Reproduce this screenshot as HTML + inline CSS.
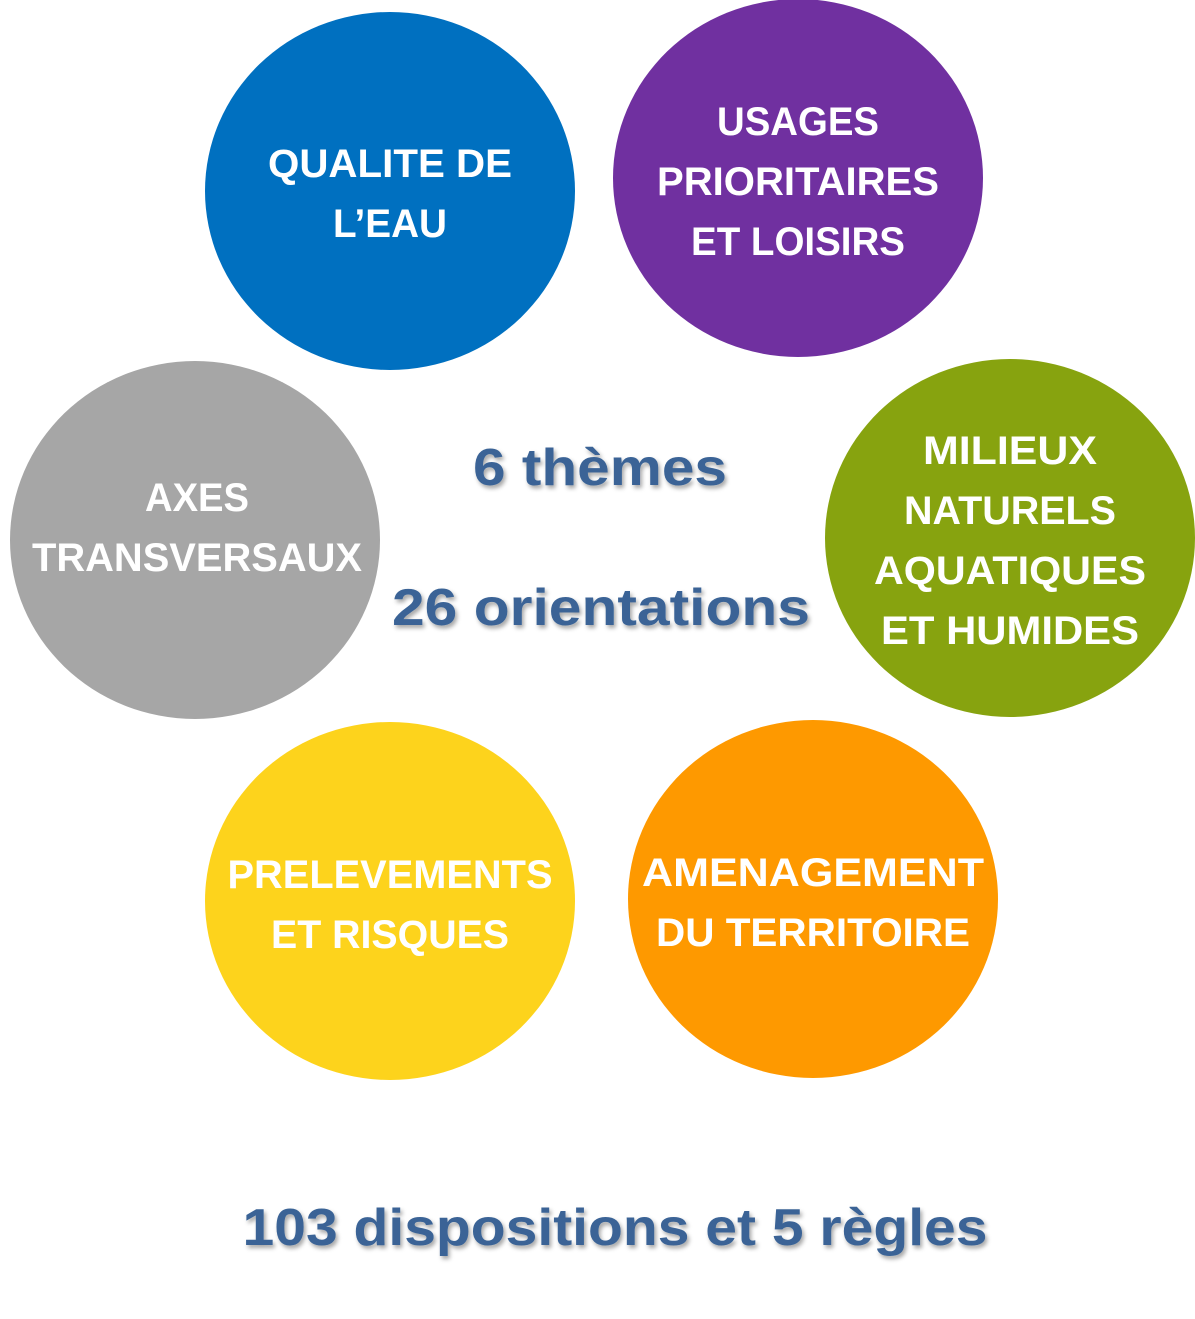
<!DOCTYPE html>
<html><head><meta charset="utf-8"><style>
html,body{margin:0;padding:0;background:#fff;}
svg{display:block;}
.w{font-family:"Liberation Sans",sans-serif;font-weight:bold;fill:#fff;font-size:40px;}
.b{font-family:"Liberation Sans",sans-serif;font-weight:bold;fill:#3A6496;font-size:52px;}
</style></head><body>
<svg width="1195" height="1319" viewBox="0 0 1195 1319" xmlns="http://www.w3.org/2000/svg">
<defs><filter id="s" x="-10%" y="-30%" width="120%" height="160%"><feDropShadow dx="2" dy="3" stdDeviation="2" flood-color="#000" flood-opacity="0.35"/></filter></defs>
<ellipse cx="390" cy="191" rx="185" ry="179" fill="#0070C0"/>
<ellipse cx="798" cy="178" rx="185" ry="179" fill="#7030A0"/>
<ellipse cx="195" cy="540" rx="185" ry="179" fill="#A6A6A6"/>
<ellipse cx="1010" cy="538" rx="185" ry="179" fill="#87A30F"/>
<ellipse cx="390" cy="901" rx="185" ry="179" fill="#FDD31C"/>
<ellipse cx="813" cy="899" rx="185" ry="179" fill="#FE9900"/>
<g class="w" text-anchor="middle">
<text x="390" y="177" textLength="244" lengthAdjust="spacingAndGlyphs">QUALITE DE</text>
<text x="390" y="237" textLength="114" lengthAdjust="spacingAndGlyphs">L’EAU</text>
<text x="798" y="135" textLength="162" lengthAdjust="spacingAndGlyphs">USAGES</text>
<text x="798" y="195" textLength="282" lengthAdjust="spacingAndGlyphs">PRIORITAIRES</text>
<text x="798" y="255" textLength="214" lengthAdjust="spacingAndGlyphs">ET LOISIRS</text>
<text x="197" y="511" textLength="104" lengthAdjust="spacingAndGlyphs">AXES</text>
<text x="197" y="571" textLength="330" lengthAdjust="spacingAndGlyphs">TRANSVERSAUX</text>
<text x="1010" y="464" textLength="174" lengthAdjust="spacingAndGlyphs">MILIEUX</text>
<text x="1010" y="524" textLength="212" lengthAdjust="spacingAndGlyphs">NATURELS</text>
<text x="1010" y="584" textLength="272" lengthAdjust="spacingAndGlyphs">AQUATIQUES</text>
<text x="1010" y="644" textLength="258" lengthAdjust="spacingAndGlyphs">ET HUMIDES</text>
<text x="390" y="888" textLength="325" lengthAdjust="spacingAndGlyphs">PRELEVEMENTS</text>
<text x="390" y="948" textLength="238" lengthAdjust="spacingAndGlyphs">ET RISQUES</text>
<text x="813" y="886" textLength="342" lengthAdjust="spacingAndGlyphs">AMENAGEMENT</text>
<text x="813" y="946" textLength="314" lengthAdjust="spacingAndGlyphs">DU TERRITOIRE</text>
</g>
<g class="b" text-anchor="middle" filter="url(#s)">
<text x="600" y="485" textLength="254" lengthAdjust="spacingAndGlyphs">6 thèmes</text>
<text x="601" y="625" textLength="418" lengthAdjust="spacingAndGlyphs">26 orientations</text>
<text x="615" y="1245" textLength="745" lengthAdjust="spacingAndGlyphs">103 dispositions et 5 règles</text>
</g>
</svg>
</body></html>
